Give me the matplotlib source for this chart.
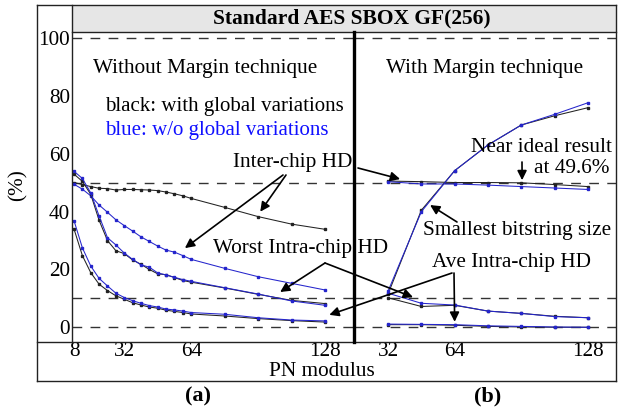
import matplotlib
matplotlib.use('Agg')
import matplotlib.pyplot as plt
from matplotlib.lines import Line2D
from matplotlib.patches import Rectangle
from matplotlib.text import Annotation

plt.rcParams['font.family'] = 'serif'
plt.rcParams['font.serif'] = ['Liberation Serif', 'DejaVu Serif']
plt.rcParams['font.size'] = 15.3

# ---- data ----
pn_left = [8, 12, 16, 20, 24, 28, 32, 36, 40, 44, 48, 52, 56, 60, 64, 80, 96, 112, 128]
inter_black = [50.1, 49.4, 48.7, 48.1, 48.0, 47.5, 47.7, 47.7, 47.6, 47.5, 47.3, 46.8, 46.2, 45.5, 44.6, 41.5, 38.3, 35.7, 33.9]
inter_blue = [49.5, 47.8, 45.5, 42.3, 39.8, 37.2, 35.2, 33.3, 31.3, 29.7, 28.1, 26.7, 26.0, 24.8, 23.5, 20.4, 17.5, 15.2, 12.9]
worst_black = [53.0, 50.5, 46.0, 37.0, 30.0, 26.5, 25.5, 23.3, 21.8, 20.0, 18.5, 18.2, 17.2, 16.2, 15.6, 13.6, 11.4, 9.3, 8.2]
worst_blue = [54.0, 51.5, 46.5, 38.5, 31.0, 28.5, 25.7, 23.5, 21.6, 20.8, 18.8, 18.1, 17.3, 16.5, 15.9, 13.7, 11.5, 9.1, 7.6]
ave_black = [34.0, 24.8, 18.9, 14.9, 12.7, 10.9, 9.7, 8.5, 7.7, 7.0, 6.6, 5.9, 5.5, 5.1, 4.6, 3.9, 3.0, 2.3, 1.8]
ave_blue = [36.9, 27.5, 21.2, 16.9, 14.3, 11.8, 10.3, 9.2, 8.3, 7.5, 7.0, 6.3, 6.0, 5.6, 5.1, 4.5, 3.3, 2.5, 2.2]

pn_right = [32, 48, 64, 80, 96, 112, 128]
m_inter_black = [50.6, 50.4, 50.1, 50.1, 50.0, 49.4, 48.7]
m_inter_blue = [50.4, 49.6, 49.6, 49.2, 48.7, 48.2, 47.7]
m_size_black = [11.5, 40.5, 54.2, 63.1, 70.0, 73.2, 76.0]
m_size_blue = [12.5, 40.0, 54.2, 63.1, 70.0, 73.7, 77.7]
m_worst_black = [10.2, 7.2, 7.6, 5.6, 4.8, 3.8, 3.3]
m_worst_blue = [11.8, 8.3, 7.7, 5.6, 4.8, 3.7, 3.3]
m_ave_black = [0.9, 0.9, 0.7, 0.3, 0.1, 0.0, 0.0]
m_ave_blue = [1.1, 1.0, 0.9, 0.5, 0.3, 0.1, 0.0]

ref_levels = [0, 10, 50, 100]
yticks = [0, 20, 40, 60, 80, 100]

W, H = 624, 412
BLK = '#222222'
BLU = '#2525cc'
FS = 15.3

fig = plt.figure(figsize=(W / 100, H / 100), dpi=100)


def fx(x):
    return x / W


def fy(y):
    return 1 - y / H


ax_l = fig.add_axes([fx(72), fy(342), (354 - 72) / W, (342 - 32) / H])
ax_r = fig.add_axes([fx(354), fy(342), (616 - 354) / W, (342 - 32) / H])

for ax in (ax_l, ax_r):
    ax.set_ylim(-5.1, 102.2)
    for s in ax.spines.values():
        s.set_visible(False)
    for lv in ref_levels:
        ax.axhline(lv, color='#333333', lw=1.0, dashes=(7, 6), zorder=1)
    ax.tick_params(length=0, labelsize=FS)

ax_l.set_xlim(7.04, 141.8)
ax_r.set_xlim(15.65, 141.5)

ax_l.set_yticks(yticks)
ax_l.tick_params(axis='y', pad=1.5)
ax_r.set_yticks([])
ax_l.set_xticks([8, 32, 64, 128])
ax_r.set_xticks([32, 64, 128])
ax_l.tick_params(axis='x', pad=0.3)
ax_r.tick_params(axis='x', pad=0.3)

kw = dict(lw=0.75, marker='s', ms=1.6, zorder=3)
for blk, blu in [(inter_black, inter_blue), (worst_black, worst_blue), (ave_black, ave_blue)]:
    ax_l.plot(pn_left, blk, color=BLK, **kw)
    ax_l.plot(pn_left, blu, color=BLU, **kw)
for blk, blu in [(m_inter_black, m_inter_blue), (m_size_black, m_size_blue),
                 (m_worst_black, m_worst_blue), (m_ave_black, m_ave_blue)]:
    ax_r.plot(pn_right, blk, color=BLK, **kw)
    ax_r.plot(pn_right, blu, color=BLU, **kw)

# ---- frame and title band ----
fig.add_artist(Rectangle((fx(72), fy(32)), (616 - 72) / W, 27 / H, transform=fig.transFigure,
                         facecolor='#e6e6e6', edgecolor='none', zorder=0))
frame = [((36.7, 5), (616, 5)), ((36.7, 5), (36.7, 381)), ((616, 5), (616, 381)),
         ((36.7, 381), (616, 381)), ((72, 5), (72, 342)), ((72, 32), (616, 32)),
         ((36.7, 342), (616, 342))]
for (x0, y0), (x1, y1) in frame:
    fig.add_artist(Line2D([fx(x0), fx(x1)], [fy(y0), fy(y1)], transform=fig.transFigure,
                          color='#222222', lw=1.0))
fig.add_artist(Line2D([fx(354), fx(354)], [fy(32), fy(342)], transform=fig.transFigure,
                      color='black', lw=2.4, zorder=5))

fig.text(fx(352), fy(18.5), 'Standard AES SBOX GF(256)', ha='center', va='center',
         fontsize=15.5, fontweight='bold')
fig.text(fx(322), fy(371), 'PN modulus', ha='center', va='center', fontsize=FS)
fig.text(fx(198), fy(396), '(a)', ha='center', va='center', fontsize=16, fontweight='bold')
fig.text(fx(488), fy(396), '(b)', ha='center', va='center', fontsize=16, fontweight='bold')
fig.text(fx(18), fy(185), '(%)', ha='center', va='center', rotation=90, fontsize=FS)

fig.text(fx(205), fy(68), 'Without Margin technique', ha='center', va='center', fontsize=FS)
fig.text(fx(485), fy(68), 'With Margin technique', ha='center', va='center', fontsize=FS)
fig.text(fx(105), fy(107), 'black: with global variations', ha='left', va='center', fontsize=15)
fig.text(fx(105), fy(130), 'blue: w/o global variations', ha='left', va='center', fontsize=15,
         color='#1010ff')
fig.text(fx(233), fy(163), 'Inter-chip HD', ha='left', va='center', fontsize=FS, zorder=6)
fig.text(fx(612), fy(148), 'Near ideal result', ha='right', va='center', fontsize=FS, zorder=6)
fig.text(fx(610), fy(168), 'at 49.6%', ha='right', va='center', fontsize=FS, zorder=6)
fig.text(fx(213), fy(248), 'Worst Intra-chip HD', ha='left', va='center', fontsize=FS, zorder=6)
fig.text(fx(423), fy(230), 'Smallest bitstring size', ha='left', va='center', fontsize=FS, zorder=6)
fig.text(fx(432), fy(262), 'Ave Intra-chip HD', ha='left', va='center', fontsize=FS, zorder=6)

# ---- arrows: tail in figure pixels, tip in data coords ----
arrows = [
    ((283, 175), ax_l, (61, 27.4)),
    ((286, 175), ax_l, (97, 40.0)),
    ((358, 168), ax_r, (37.8, 51.3)),
    ((522, 162), ax_r, (96.4, 50.9)),
    ((457, 222), ax_r, (52.2, 42.3)),
    ((325, 263), ax_l, (106.5, 12.2)),
    ((325, 263), ax_r, (44.0, 10.4)),
    ((452, 273), ax_l, (130.0, 4.3)),
    ((454, 273), ax_r, (64.0, 1.9)),
]
for (tx, ty), ax, tip in arrows:
    ann = Annotation('', xy=tip, xycoords=ax.transData,
                     xytext=(tx, H - ty), textcoords='figure pixels',
                     arrowprops=dict(arrowstyle='-|>', color='black', lw=1.2,
                                     mutation_scale=14, shrinkA=0, shrinkB=0))
    ann.set_zorder(7)
    fig.add_artist(ann)

fig.savefig('out.png', dpi=100)
